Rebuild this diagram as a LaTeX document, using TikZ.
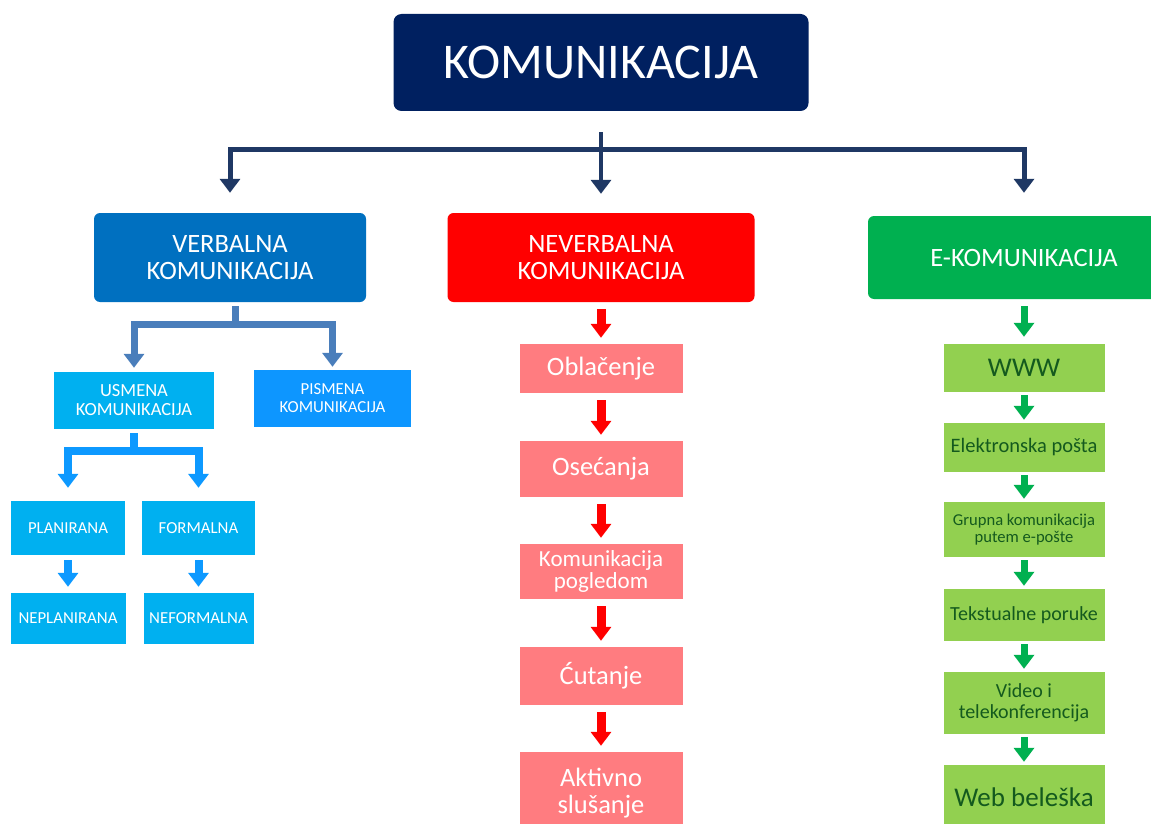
\documentclass[tikz,border=0pt]{standalone}
\usepackage{fontspec}
\setmainfont{Carlito}
\usetikzlibrary{arrows.meta}

\definecolor{navyfill}{HTML}{002060}
\definecolor{navyline}{HTML}{1F3864}
\definecolor{verbblue}{HTML}{0070C0}
\definecolor{neverred}{HTML}{FF0000}
\definecolor{egreen}{HTML}{00B050}
\definecolor{subblue}{HTML}{00B0F0}
\definecolor{pisblue}{HTML}{0D96FF}
\definecolor{steelline}{HTML}{4A7EBB}
\definecolor{arrblue}{HTML}{0D99FF}
\definecolor{pinkfill}{HTML}{FF7C80}
\definecolor{lgreen}{HTML}{92D050}
\definecolor{dgreen}{HTML}{145A1E}

\tikzset{
	box/.style={inner sep=0pt, align=center, text=white},
	topbox/.style={box, fill=navyfill, rounded corners=8pt, minimum width=415pt, minimum height=97pt, font=\fontsize{50}{52}\selectfont},
	catbox/.style={box, rounded corners=6pt, minimum height=89pt, font=\fontsize{26.5}{27}\selectfont},
	subbox/.style={box, fill=subblue, font=\fontsize{16.8}{18}\selectfont},
	pinkbox/.style={box, fill=pinkfill, minimum width=163pt, font=\fontsize{26.5}{27}\selectfont},
	greenbox/.style={box, fill=lgreen, text=dgreen, minimum width=161pt, font=\fontsize{20}{21}\selectfont},
	navyarrow/.style={draw=navyline, line width=5pt},
	steelarrow/.style={draw=steelline, line width=7pt},
	bluearrow/.style={draw=arrblue, line width=8pt},
	redarrow/.style={draw=neverred, line width=9pt, ->, shorten <=7pt, shorten >=6pt},
	greenarrow/.style={draw=egreen, line width=7pt, ->, shorten <=3pt, shorten >=3pt},
}

\begin{document}
\begin{tikzpicture}[x=1pt, y=-1pt, >={Triangle[width=20pt,length=14pt]}]
	\fill[white] (0,0) rectangle (1151,824);
	\useasboundingbox (0,0) rectangle (1151,824);

	% top
	\node [topbox] (kom) at (601,62.5) {KOMUNIKACIJA};
	\node [catbox, fill=verbblue, minimum width=272pt] (verb) at (230,257.5) {VERBALNA\\KOMUNIKACIJA};
	\node [catbox, fill=neverred, minimum width=307pt] (nev) at (601,257.5) {NEVERBALNA\\KOMUNIKACIJA};
	\node [catbox, fill=egreen, minimum width=312pt, minimum height=83pt] (ekom) at (1024,257.5) {E-KOMUNIKACIJA};

	\coordinate (tj) at (601,150);
	\draw [navyarrow, ->, line width=4pt, shorten <=21pt, shorten >=19pt] (kom) -- (nev);
	\draw [navyarrow, <->, shorten <=20pt, shorten >=23pt] (verb.north) |- (tj) -| (ekom.north);

	% verbalna
	\node [subbox, minimum width=160pt, minimum height=57pt, font=\fontsize{18.5}{19}\selectfont] (usm) at (134,400.5) {USMENA\\KOMUNIKACIJA};
	\node [subbox, fill=pisblue, minimum width=157pt, minimum height=57pt] (pis) at (332.5,398.5) {PISMENA\\KOMUNIKACIJA};
	\node [subbox, minimum width=114pt, minimum height=54pt] (pla) at (68,528) {PLANIRANA};
	\node [subbox, minimum width=113pt, minimum height=54pt] (frm) at (198.5,528) {FORMALNA};
	\node [subbox, minimum width=115pt, minimum height=51pt] (npl) at (68,618.5) {NEPLANIRANA};
	\node [subbox, minimum width=110pt, minimum height=51pt] (nfr) at (198.5,618.5) {NEFORMALNA};

	\coordinate (vj) at (235,324);
	\draw [steelarrow, shorten <=4pt] (vj |- verb.south) -- (vj);
	\draw [steelarrow, <->, shorten <=4pt, shorten >=3pt] (usm.north) |- (vj) -| (pis.north);
	\coordinate (uj) at (134,451);
	\draw [bluearrow, shorten <=4pt] (uj |- usm.south) -- (uj);
	\draw [bluearrow, <->, shorten <=13pt, shorten >=13pt] (pla.north) |- (uj) -| (frm.north);
	\draw [bluearrow, ->, shorten <=5pt, shorten >=6pt] (pla) -- (npl);
	\draw [bluearrow, ->, shorten <=5pt, shorten >=6pt] (frm) -- (nfr);

	% neverbalna
	\node [pinkbox, minimum height=49pt] (obl) at (601,368.5) {Obla\v{c}enje};
	\node [pinkbox, minimum height=56pt] (ose) at (601,469) {Ose\'{c}anja};
	\node [pinkbox, minimum height=55pt, font=\fontsize{23}{22}\selectfont] (kpo) at (601,571.5) {Komunikacija\\pogledom};
	\node [pinkbox, minimum height=58pt] (cut) at (601,676) {\'{C}utanje};
	\node [pinkbox, minimum height=82pt] (akt) at (601,793) {Aktivno\\slu\v{s}anje};
	\foreach \a/\b in {nev/obl, obl/ose, ose/kpo, kpo/cut, cut/akt}
		\draw [redarrow] (\a) -- (\b);

	% e-komunikacija
	\node [greenbox, minimum height=48pt, font=\fontsize{27}{28}\selectfont] (www) at (1024,368) {WWW};
	\node [greenbox, minimum height=49pt, font=\fontsize{20.5}{21}\selectfont] (ele) at (1024,447.5) {Elektronska po\v{s}ta};
	\node [greenbox, minimum height=55pt, font=\fontsize{16.6}{17}\selectfont] (gru) at (1024,529.5) {Grupna komunikacija\\putem e-po\v{s}te};
	\node [greenbox, minimum height=52pt] (tek) at (1024,615) {Tekstualne poruke};
	\node [greenbox, minimum height=62pt] (vid) at (1024,703) {Video i\\telekonferencija};
	\node [greenbox, minimum height=64pt, font=\fontsize{27}{28}\selectfont] (web) at (1024,797) {Web bele\v{s}ka};
	\draw [greenarrow, shorten <=7pt, shorten >=7pt] (ekom) -- (www);
	\foreach \a/\b in {www/ele, ele/gru, gru/tek, tek/vid, vid/web}
		\draw [greenarrow] (\a) -- (\b);
\end{tikzpicture}
\end{document}
